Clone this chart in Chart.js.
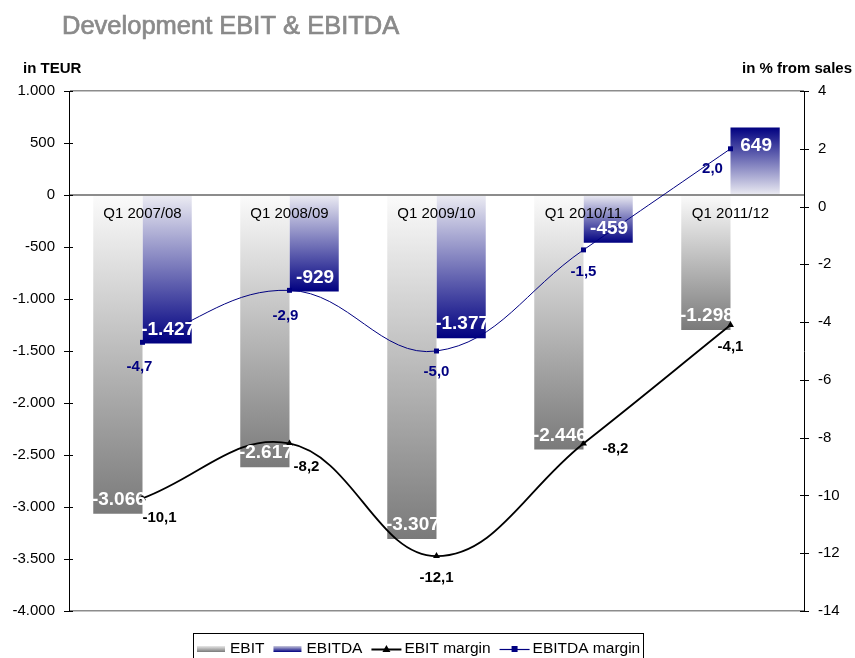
<!DOCTYPE html>
<html><head><meta charset="utf-8">
<script src="https://cdn.jsdelivr.net/npm/chart.js@4"></script>
<style>html,body{margin:0;padding:0;background:#fff}#wrap{width:855px;height:658px;position:relative;overflow:hidden}</style>
</head><body><div id="wrap"><canvas id="c" width="855" height="658"></canvas></div>
<script>
const titleText = 'Development EBIT & EBITDA';
const leftAxisTitle = 'in TEUR';
const rightAxisTitle = 'in % from sales';
const categories = ['Q1 2007/08', 'Q1 2008/09', 'Q1 2009/10', 'Q1 2010/11', 'Q1 2011/12'];
const ebit = [-3066, -2617, -3307, -2446, -1298];
const ebitda = [-1427, -929, -1377, -459, 649];
const ebitMargin = [-10.1, -8.2, -12.1, -8.2, -4.1];
const ebitdaMargin = [-4.7, -2.9, -5.0, -1.5, 2.0];
const leftTicks = [1000, 500, 0, -500, -1000, -1500, -2000, -2500, -3000, -3500, -4000];
const rightTicks = [4, 2, 0, -2, -4, -6, -8, -10, -12, -14];

// label placement (style, not data): offsets from point in pixels
const ebitMarginLabelOffsets = [[17, 20], [17, 23], [0, 22], [32, 5], [0, 22]];
const ebitdaMarginLabelOffsets = [[-3, 25], [-4, 26], [0, 21], [0, 22], [-18, 20]];

const FONT = '"Liberation Sans", Arial, sans-serif';

function fmtInt(v) {
  const s = Math.abs(Math.round(v)).toString().replace(/\B(?=(\d{3})+(?!\d))/g, '.');
  return (v < 0 ? '-' : '') + s;
}
function fmtDec(v) { return v.toFixed(1).replace('.', ','); }

function barGrad(ctx, light, dark) {
  const chart = ctx.chart;
  if (!chart.chartArea || ctx.type !== 'data') return dark;
  const ys = chart.scales.y;
  const y0 = ys.getPixelForValue(0), y1 = ys.getPixelForValue(ctx.raw);
  if (Math.abs(y1 - y0) < 1) return dark;
  const g = chart.ctx.createLinearGradient(0, y0, 0, y1);
  g.addColorStop(0, light);
  g.addColorStop(1, dark);
  return g;
}

const overlay = {
  id: 'overlay',
  afterDatasetsDraw(chart) {
    const c = chart.ctx;
    const ys = chart.scales.y, xs = chart.scales.x;
    const zeroY = ys.getPixelForValue(0);
    c.save();
    // bar value labels
    c.font = 'bold 19px ' + FONT;
    c.fillStyle = '#fff';
    c.textAlign = 'center';
    c.textBaseline = 'middle';
    [0, 1].forEach(di => {
      const meta = chart.getDatasetMeta(di);
      meta.data.forEach((el, i) => {
        const v = chart.data.datasets[di].data[i];
        const y = el.y + (v < 0 ? -14 : 18);
        c.fillText(fmtInt(v), el.x + 1, y);
      });
    });
    // category labels
    c.font = '15px ' + FONT;
    c.fillStyle = '#000';
    categories.forEach((lab, i) => {
      c.fillText(lab, xs.getPixelForValue(i), zeroY + 19);
    });
    // line point labels
    c.font = 'bold 15px ' + FONT;
    const m2 = chart.getDatasetMeta(2), m3 = chart.getDatasetMeta(3);
    c.fillStyle = '#000';
    m2.data.forEach((p, i) => {
      const o = ebitMarginLabelOffsets[i];
      c.fillText(fmtDec(ebitMargin[i]), p.x + o[0], p.y + o[1]);
    });
    c.fillStyle = '#000080';
    m3.data.forEach((p, i) => {
      const o = ebitdaMarginLabelOffsets[i];
      c.fillText(fmtDec(ebitdaMargin[i]), p.x + o[0], p.y + o[1]);
    });
    c.restore();
  },
  afterDraw(chart) {
    const c = chart.ctx;
    const a = chart.chartArea;
    const ys = chart.scales.y, y2 = chart.scales.y2;
    c.save();
    // tick marks crossing the axes
    c.strokeStyle = '#000';
    c.lineWidth = 1;
    leftTicks.forEach(v => {
      const y = Math.round(ys.getPixelForValue(v)) + 0.5;
      c.beginPath(); c.moveTo(a.left - 5, y); c.lineTo(a.left + 4, y); c.stroke();
    });
    rightTicks.forEach(v => {
      const y = Math.round(y2.getPixelForValue(v)) + 0.5;
      c.beginPath(); c.moveTo(a.right - 4, y); c.lineTo(a.right + 5, y); c.stroke();
    });
    // title
    c.fillStyle = '#8a8a8a';
    c.strokeStyle = '#8a8a8a';
    c.lineWidth = 0.7;
    c.font = '25.5px ' + FONT;
    c.textAlign = 'left';
    c.textBaseline = 'alphabetic';
    c.fillText(titleText, 62, 34);
    c.strokeText(titleText, 62, 34);
    // axis titles
    c.fillStyle = '#000';
    c.font = 'bold 15px ' + FONT;
    c.textBaseline = 'middle';
    c.fillText(leftAxisTitle, 23, 69);
    c.textAlign = 'right';
    c.fillText(rightAxisTitle, 852, 69);
    // legend
    const bx = 193, by = 633, bw = 450, bh = 40;
    c.strokeStyle = '#000';
    c.lineWidth = 1;
    c.strokeRect(bx + 0.5, by + 0.5, bw, bh);
    c.font = '15.5px ' + FONT;
    c.textAlign = 'left';
    c.textBaseline = 'middle';
    const ly = 649;
    let x = 197;
    chart.data.datasets.forEach((ds, i) => {
      const sw = 30;
      if (i < 2) {
        const g = c.createLinearGradient(0, ly - 3, 0, ly + 3);
        if (i === 0) { g.addColorStop(0, '#e8e8e8'); g.addColorStop(1, '#7a7a7a'); }
        else { g.addColorStop(0, '#c8c8dc'); g.addColorStop(1, '#000080'); }
        c.fillStyle = g;
        c.fillRect(x, ly - 3, sw - 2, 6);
      } else {
        c.strokeStyle = ds.borderColor;
        c.lineWidth = i === 2 ? 2 : 1.2;
        c.beginPath(); c.moveTo(x, ly + 0.5); c.lineTo(x + sw, ly + 0.5); c.stroke();
        c.fillStyle = ds.borderColor;
        const cx = x + sw / 2;
        if (i === 2) {
          c.beginPath(); c.moveTo(cx, ly - 4); c.lineTo(cx + 4, ly + 3); c.lineTo(cx - 4, ly + 3); c.closePath(); c.fill();
        } else {
          c.fillRect(cx - 3, ly - 3, 6, 6);
        }
      }
      x += sw + 3;
      c.fillStyle = '#000';
      c.fillText(ds.label, x, ly);
      x += c.measureText(ds.label).width + 9;
    });
    c.restore();
  }
};

new Chart(document.getElementById('c'), {
  data: {
    labels: categories,
    datasets: [
      { type: 'bar', label: 'EBIT', data: ebit, yAxisID: 'y', order: 2,
        backgroundColor: ctx => barGrad(ctx, '#fbfbfb', '#7a7a7a'),
        categoryPercentage: 0.67, barPercentage: 1.0, borderWidth: 0 },
      { type: 'bar', label: 'EBITDA', data: ebitda, yAxisID: 'y', order: 2,
        backgroundColor: ctx => barGrad(ctx, '#ececf3', '#000080'),
        categoryPercentage: 0.67, barPercentage: 1.0, borderWidth: 0 },
      { type: 'line', label: 'EBIT margin', data: ebitMargin, yAxisID: 'y2', order: 0,
        borderColor: '#000', backgroundColor: '#000', borderWidth: 1.8, tension: 0.4,
        pointStyle: 'triangle', pointRadius: 4, pointBorderWidth: 0, pointBackgroundColor: '#000' },
      { type: 'line', label: 'EBITDA margin', data: ebitdaMargin, yAxisID: 'y2', order: 0,
        borderColor: '#000080', backgroundColor: '#000080', borderWidth: 1, tension: 0.4,
        pointStyle: 'rect', pointRadius: 3.5, pointBorderWidth: 0, pointBackgroundColor: '#000080' }
    ]
  },
  options: {
    responsive: false,
    animation: false,
    devicePixelRatio: 1,
    layout: { padding: { top: 91, bottom: 47, left: 0, right: 0 } },
    plugins: { legend: { display: false }, title: { display: false }, tooltip: { enabled: false } },
    scales: {
      x: { type: 'category', display: false, offset: true },
      y: {
        position: 'left', min: -4000, max: 1000,
        afterBuildTicks: s => { s.ticks = leftTicks.map(v => ({ value: v })); },
        afterFit: s => { s.width = 69; },
        ticks: { callback: v => fmtInt(v), font: { family: FONT, size: 15 }, color: '#000', padding: 14 },
        grid: {
          drawTicks: false,
          color: ctx => (ctx.tick && (ctx.tick.value === 0 || ctx.tick.value === 1000 || ctx.tick.value === -4000)) ? '#8c8c8c' : 'rgba(0,0,0,0)',
          lineWidth: ctx => (ctx.tick && ctx.tick.value === 0) ? 2 : 1.5
        },
        border: { color: '#000', width: 1 }
      },
      y2: {
        position: 'right', min: -14, max: 4,
        afterBuildTicks: s => { s.ticks = rightTicks.map(v => ({ value: v })); },
        afterFit: s => { s.width = 51; },
        ticks: { callback: v => String(v), font: { family: FONT, size: 15 }, color: '#000', padding: 14 },
        grid: { drawOnChartArea: false, drawTicks: false },
        border: { color: '#000', width: 1 }
      }
    }
  },
  plugins: [overlay]
});
</script>
</body></html>
